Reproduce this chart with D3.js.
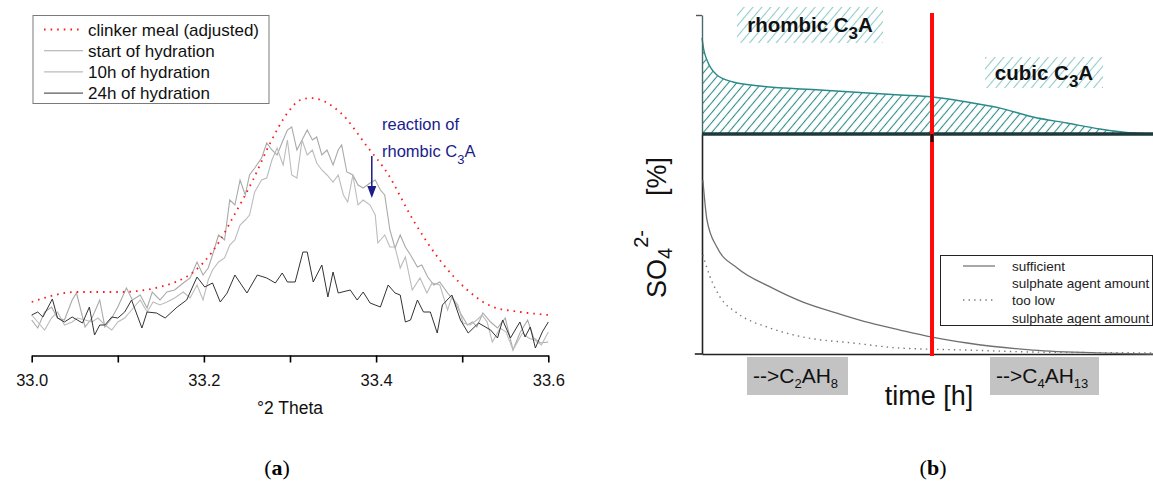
<!DOCTYPE html>
<html><head><meta charset="utf-8">
<script src="https://cdn.jsdelivr.net/npm/d3@7"></script>
<style>body{margin:0;background:#fff} svg{display:block} text{font-family:"Liberation Sans",Arial,sans-serif}</style>
</head><body><svg id="c" width="1153" height="488"></svg>
<script>
// ---------- panel (a) data : XRD intensity vs °2 Theta ----------
const xTicks = [33.0,33.1,33.2,33.3,33.4,33.5,33.6];
const xTickLabels = ["33.0","33.2","33.4","33.6"];

const clinkerTheta = [33.000,33.053,33.103,33.157,33.199,33.219,33.234,33.257,33.277,33.297,33.312,33.324,33.359,33.390,33.413,33.443,33.474,33.506,33.536,33.568,33.600];
const clinkerCounts = [53,63,63,70,92,115,138,175,212,242,255,257,242,208,182,135,95,65,48,43,40];

const startTheta = [33.000,33.007,33.015,33.023,33.030,33.038,33.047,33.052,33.062,33.070,33.079,33.085,33.093,33.100,33.110,33.117,33.126,33.134,33.140,33.149,33.157,33.166,33.176,33.184,33.192,33.199,33.205,33.210,33.217,33.224,33.230,33.236,33.242,33.248,33.253,33.259,33.267,33.273,33.279,33.285,33.292,33.297,33.302,33.308,33.314,33.320,33.326,33.331,33.337,33.343,33.350,33.356,33.360,33.366,33.373,33.379,33.385,33.393,33.399,33.405,33.410,33.416,33.422,33.428,33.434,33.440,33.448,33.453,33.460,33.467,33.474,33.483,33.490,33.498,33.506,33.512,33.517,33.524,33.533,33.541,33.550,33.559,33.567,33.576,33.583,33.591,33.600];
const startCounts = [35,27,43,48,37,35,55,62,28,37,55,28,37,48,67,55,60,47,63,55,63,65,72,77,93,80,87,100,120,115,155,150,175,160,180,187,197,212,205,200,215,225,228,205,215,225,215,218,200,205,190,205,210,183,180,170,167,172,175,165,160,125,107,120,108,100,88,90,78,70,73,62,55,42,30,33,28,42,33,27,37,5,22,35,17,12,13];

const h10Theta = [33.000,33.007,33.015,33.023,33.030,33.038,33.047,33.053,33.062,33.070,33.077,33.085,33.093,33.100,33.108,33.116,33.126,33.134,33.141,33.149,33.157,33.166,33.176,33.184,33.192,33.199,33.205,33.210,33.217,33.224,33.230,33.236,33.242,33.248,33.253,33.259,33.267,33.273,33.279,33.285,33.292,33.297,33.302,33.308,33.314,33.320,33.326,33.331,33.337,33.343,33.350,33.356,33.362,33.367,33.373,33.379,33.385,33.393,33.399,33.402,33.410,33.416,33.422,33.428,33.434,33.442,33.451,33.459,33.465,33.474,33.483,33.488,33.495,33.501,33.509,33.517,33.523,33.529,33.535,33.544,33.551,33.559,33.570,33.577,33.584,33.592,33.600];
const h10Counts = [40,33,25,37,43,30,33,37,35,33,37,30,25,33,37,45,55,43,53,50,53,57,63,57,70,55,75,85,93,97,110,115,130,135,140,163,175,177,195,207,190,215,180,177,215,200,205,192,185,180,173,180,160,153,180,150,155,150,140,112,120,108,108,87,98,65,77,62,72,70,45,58,50,32,30,35,40,33,13,27,23,5,22,17,15,10,23];

const h24Theta = [33.000,33.007,33.013,33.024,33.030,33.038,33.047,33.053,33.059,33.067,33.073,33.079,33.085,33.093,33.100,33.108,33.116,33.128,33.134,33.145,33.155,33.169,33.180,33.192,33.201,33.210,33.219,33.227,33.236,33.250,33.262,33.273,33.283,33.291,33.297,33.306,33.315,33.320,33.327,33.337,33.344,33.350,33.356,33.370,33.378,33.385,33.393,33.405,33.414,33.422,33.428,33.434,33.440,33.448,33.455,33.463,33.471,33.477,33.488,33.498,33.507,33.519,33.533,33.541,33.547,33.556,33.567,33.573,33.579,33.585,33.593,33.600];
const h24Counts = [40,43,38,56,37,33,38,35,32,48,20,30,30,38,37,43,55,27,43,42,37,48,55,78,68,72,53,62,80,62,80,77,72,82,73,73,103,103,73,90,58,83,62,65,55,63,52,48,70,62,60,33,35,55,43,43,22,50,60,35,22,32,25,17,35,17,33,18,28,7,23,33];

const legendA = ["clinker meal (adjusted)","start of hydration","10h of hydration","24h of hydration"];

// ---------- panel (b) data : schematic SO4 / C3A vs time ----------
const c3aTime  = [0,0.4,1.1,3.3,6.9,12.9,26.2,43.9,51.0,58.8,66.1,73.4,80.9,88.2,95.6,100];
const c3aValue = [80.7,70.6,62.2,49.6,43.7,40.3,37.0,32.8,31.1,26.9,21.8,14.3,9.2,4.2,0.8,0];
const sufficientTime  = [0.2,1.1,3.3,7.8,15.1,22.4,29.9,37.3,43.9,51.0,58.8,73.4,88.2,100];
const sufficientValue = [79,61,48.6,39.1,30.5,23.6,18.6,14.1,10.9,7.7,5.0,1.8,0.5,0];
const lowTime  = [0.2,1.8,4.0,7.8,15.1,22.4,33.5,43.9,58.8,73.4,100];
const lowValue = [45,35,25.9,18.6,11.8,7.7,5.0,2.7,1.8,0.9,0.5];
const switchTime = 51;
const legendB = ["sufficient","sulphate agent amount","too low","sulphate agent amount"];

const svg = d3.select("#c");
svg.append("rect").attr("width",1153).attr("height",488).attr("fill","#fff");

const defs = svg.append("defs");
function hatch(id, w, color, sw){
  const p = defs.append("pattern").attr("id",id).attr("patternUnits","userSpaceOnUse")
    .attr("width",w).attr("height",10).attr("patternTransform","rotate(40)");
  p.append("line").attr("x1",w/2).attr("x2",w/2).attr("y1",0).attr("y2",10)
    .attr("stroke",color).attr("stroke-width",sw);
}
hatch("hatchArea",6.4,"#2f8b8b",1.1);
hatch("hatchLabel",6.8,"#8fcaca",1.1);

// ================= panel (a) =================
const x = d3.scaleLinear().domain([33.0,33.6]).range([31.7,548.3]);
const y = d3.scaleLinear().domain([0,340]).range([355,15]);
const line = d3.line().x(d=>x(d[0])).y(d=>y(d[1]));
const smooth = d3.line().x(d=>x(d[0])).y(d=>y(d[1])).curve(d3.curveMonotoneX);

const gA = svg.append("g");
gA.append("path").datum(d3.zip(startTheta,startCounts)).attr("d",line)
  .attr("fill","none").attr("stroke","#a9a9a9").attr("stroke-width",1.1);
gA.append("path").datum(d3.zip(h10Theta,h10Counts)).attr("d",line)
  .attr("fill","none").attr("stroke","#bcbcbc").attr("stroke-width",1.1);
gA.append("path").datum(d3.zip(h24Theta,h24Counts)).attr("d",line)
  .attr("fill","none").attr("stroke","#333").attr("stroke-width",1);
gA.append("path").datum(d3.zip(clinkerTheta,clinkerCounts)).attr("d",smooth)
  .attr("fill","none").attr("stroke","#ff1a1a").attr("stroke-width",1.8).attr("stroke-dasharray","1.6,5");

const axA = gA.append("g").attr("transform",`translate(0,${y(0)+0.5})`)
  .call(d3.axisBottom(x).tickValues(xTicks)
    .tickFormat(d=>{const s=d.toFixed(1); return xTickLabels.includes(s)?s:"";})
    .tickSize(7).tickSizeOuter(0).tickPadding(12));
axA.select(".domain").attr("stroke","#000").attr("stroke-width",1.6);
axA.selectAll(".tick line").attr("stroke","#000").attr("stroke-width",1.6);
axA.selectAll(".tick text").attr("font-size",16.5).attr("fill","#111")
  .attr("font-family","'Liberation Sans',Arial,sans-serif");
gA.append("text").attr("x",290).attr("y",414).attr("text-anchor","middle")
  .attr("font-size",17.5).attr("fill","#111").text("°2 Theta");

// legend (a)
const legA = gA.append("g");
legA.append("rect").attr("x",33).attr("y",15.5).attr("width",236).attr("height",88)
  .attr("fill","#fff").attr("stroke","#7a7a7a").attr("stroke-width",1);
const legStyles = [
  {c:"#ff1a1a",w:1.8,d:"1.6,5"},{c:"#a9a9a9",w:1.1,d:null},{c:"#bcbcbc",w:1.1,d:null},{c:"#333",w:1,d:null}];
legendA.forEach((t,i)=>{
  const yy = 29.5 + i*21.2;
  legA.append("line").attr("x1",44).attr("x2",83).attr("y1",yy).attr("y2",yy)
    .attr("stroke",legStyles[i].c).attr("stroke-width",legStyles[i].w)
    .attr("stroke-dasharray",legStyles[i].d);
  legA.append("text").attr("x",88).attr("y",yy+6).attr("font-size",17).attr("fill","#111").text(t);
});

// annotation arrow
const navy = "#1b1b8a";
const arrowTheta = 33.395;
gA.append("line").attr("x1",x(arrowTheta)).attr("x2",x(arrowTheta)).attr("y1",y(199)).attr("y2",y(166))
  .attr("stroke",navy).attr("stroke-width",1.5);
gA.append("path").attr("d",`M${x(arrowTheta)-4.5},${y(169)} L${x(arrowTheta)+4.5},${y(169)} L${x(arrowTheta)},${y(157)} Z`)
  .attr("fill",navy);
gA.append("text").attr("x",382).attr("y",130).attr("font-size",16.5).attr("fill",navy).text("reaction of");
const rt = gA.append("text").attr("x",382).attr("y",157).attr("font-size",16.5).attr("fill",navy);
rt.append("tspan").text("rhombic C");
rt.append("tspan").attr("dy",7).attr("font-size",13).text("3");
rt.append("tspan").attr("dy",-7).text("A");

// ================= panel (b) =================
const tx = d3.scaleLinear().domain([0,100]).range([702,1153]);
const yU = d3.scaleLinear().domain([0,100]).range([134,15]);
const yL = d3.scaleLinear().domain([0,100]).range([354,134]);
const gB = svg.append("g");

// upper hatched C3A area
const c3a = d3.zip(c3aTime,c3aValue);
gB.append("path").datum(c3a)
  .attr("d",d3.area().x(d=>tx(d[0])).y0(yU(0)).y1(d=>yU(d[1])).curve(d3.curveMonotoneX))
  .attr("fill","url(#hatchArea)");
gB.append("path").datum(c3a)
  .attr("d",d3.line().x(d=>tx(d[0])).y(d=>yU(d[1])).curve(d3.curveMonotoneX))
  .attr("fill","none").attr("stroke","#2a8a8a").attr("stroke-width",1.4);

// axes
const axU = gB.append("g").attr("transform",`translate(${tx(0)},0)`)
  .call(d3.axisLeft(yU).tickValues([100]).tickFormat("").tickSize(6).tickSizeOuter(0));
axU.select(".domain").attr("stroke","#4a6a6a").attr("stroke-width",1.4);
axU.selectAll(".tick line").attr("stroke","#555").attr("stroke-width",1.4);
const axL = gB.append("g").attr("transform",`translate(${tx(0)},0)`)
  .call(d3.axisLeft(yL).tickValues([]).tickSizeOuter(0));
axL.select(".domain").attr("stroke","#222").attr("stroke-width",1.6);
const axB = gB.append("g").attr("transform",`translate(0,${yL(0)})`)
  .call(d3.axisBottom(tx).tickValues([]).tickSizeOuter(0));
axB.select(".domain").attr("stroke","#222").attr("stroke-width",1.6);
gB.append("line").attr("x1",tx(-1.6)).attr("x2",tx(0)).attr("y1",yL(0)).attr("y2",yL(0))
  .attr("stroke","#222").attr("stroke-width",1.6);

// lower curves
gB.append("path").datum(d3.zip(sufficientTime,sufficientValue))
  .attr("d",d3.line().x(d=>tx(d[0])).y(d=>yL(d[1])).curve(d3.curveMonotoneX))
  .attr("fill","none").attr("stroke","#6f6f6f").attr("stroke-width",1.3);
gB.append("path").datum(d3.zip(lowTime,lowValue))
  .attr("d",d3.line().x(d=>tx(d[0])).y(d=>yL(d[1])).curve(d3.curveMonotoneX))
  .attr("fill","none").attr("stroke","#777").attr("stroke-width",1.4).attr("stroke-dasharray","1.4,4.2");

// separator baseline between panels
gB.append("line").attr("x1",tx(0)).attr("x2",tx(100)).attr("y1",yU(0)).attr("y2",yU(0))
  .attr("stroke","#1c3a3a").attr("stroke-width",3.4);

// red switch line
gB.append("line").attr("x1",tx(switchTime)).attr("x2",tx(switchTime)).attr("y1",13).attr("y2",yL(0)+2)
  .attr("stroke","#ff0a0a").attr("stroke-width",4);
gB.append("rect").attr("x",tx(switchTime)-1.5).attr("y",yU(0)).attr("width",3).attr("height",8).attr("fill","#111");

// C3A labels with hatched background
function hatchLabel(x0,y0,w,h,base,main,sub,tail){
  gB.append("rect").attr("x",x0).attr("y",y0).attr("width",w).attr("height",h).attr("fill","url(#hatchLabel)");
  const t = gB.append("text").attr("x",x0+w/2).attr("y",base).attr("text-anchor","middle")
    .attr("font-size",20.5).attr("font-weight","bold").attr("fill","#111");
  t.append("tspan").text(main);
  t.append("tspan").attr("dy",7).attr("font-size",17).text(sub);
  t.append("tspan").attr("dy",-7).text(tail);
}
hatchLabel(737,7,146,36,32,"rhombic C","3","A");
hatchLabel(985,57,118,31,80,"cubic C","3","A");

// product boxes
function prodBox(x0,w,s1,s2){
  gB.append("rect").attr("x",x0).attr("y",357).attr("width",w).attr("height",38).attr("fill","#c3c3c3");
  const t = gB.append("text").attr("x",x0+6).attr("y",383).attr("font-size",21).attr("fill","#111");
  t.append("tspan").text("-->C");
  t.append("tspan").attr("dy",5).attr("font-size",13).text(s1);
  t.append("tspan").attr("dy",-5).text("AH");
  t.append("tspan").attr("dy",5).attr("font-size",13).text(s2);
}
prodBox(747,101,"2","8");
prodBox(990,109,"4","13");

// axis titles
gB.append("text").attr("x",929).attr("y",405).attr("text-anchor","middle").attr("font-size",27)
  .attr("fill","#111").text("time [h]");
const yl = gB.append("text").attr("transform","translate(666,298) rotate(-90)").attr("font-size",27).attr("fill","#111");
yl.append("tspan").text("SO");
yl.append("tspan").attr("dy",6).attr("font-size",20).text("4");
yl.append("tspan").attr("dy",-24).attr("font-size",20).text("2-");
yl.append("tspan").attr("dy",18).attr("dx",34).text("[%]");

// legend (b)
const legB = gB.append("g");
legB.append("rect").attr("x",940.5).attr("y",255.5).attr("width",212).attr("height",70)
  .attr("fill","#fff").attr("stroke","#222").attr("stroke-width",1);
legB.append("line").attr("x1",963).attr("x2",995).attr("y1",266).attr("y2",266).attr("stroke","#6f6f6f").attr("stroke-width",1.2);
legB.append("line").attr("x1",963).attr("x2",995).attr("y1",300).attr("y2",300).attr("stroke","#777").attr("stroke-width",1.3).attr("stroke-dasharray","1.4,4.2");
legendB.forEach((t,i)=>{
  legB.append("text").attr("x",1012).attr("y",271+i*17.2).attr("font-size",13.5).attr("fill","#222").text(t);
});

// panel letters
[["(a)",277],["(b)",933]].forEach(([s,cx])=>{
  const t = svg.append("text").attr("x",cx).attr("y",475).attr("text-anchor","middle")
    .attr("font-size",22).attr("fill","#000").style("font-family","'Liberation Serif','Times New Roman',serif");
  t.append("tspan").text("(");
  t.append("tspan").attr("font-weight","bold").text(s[1]);
  t.append("tspan").text(")");
});
</script></body></html>
